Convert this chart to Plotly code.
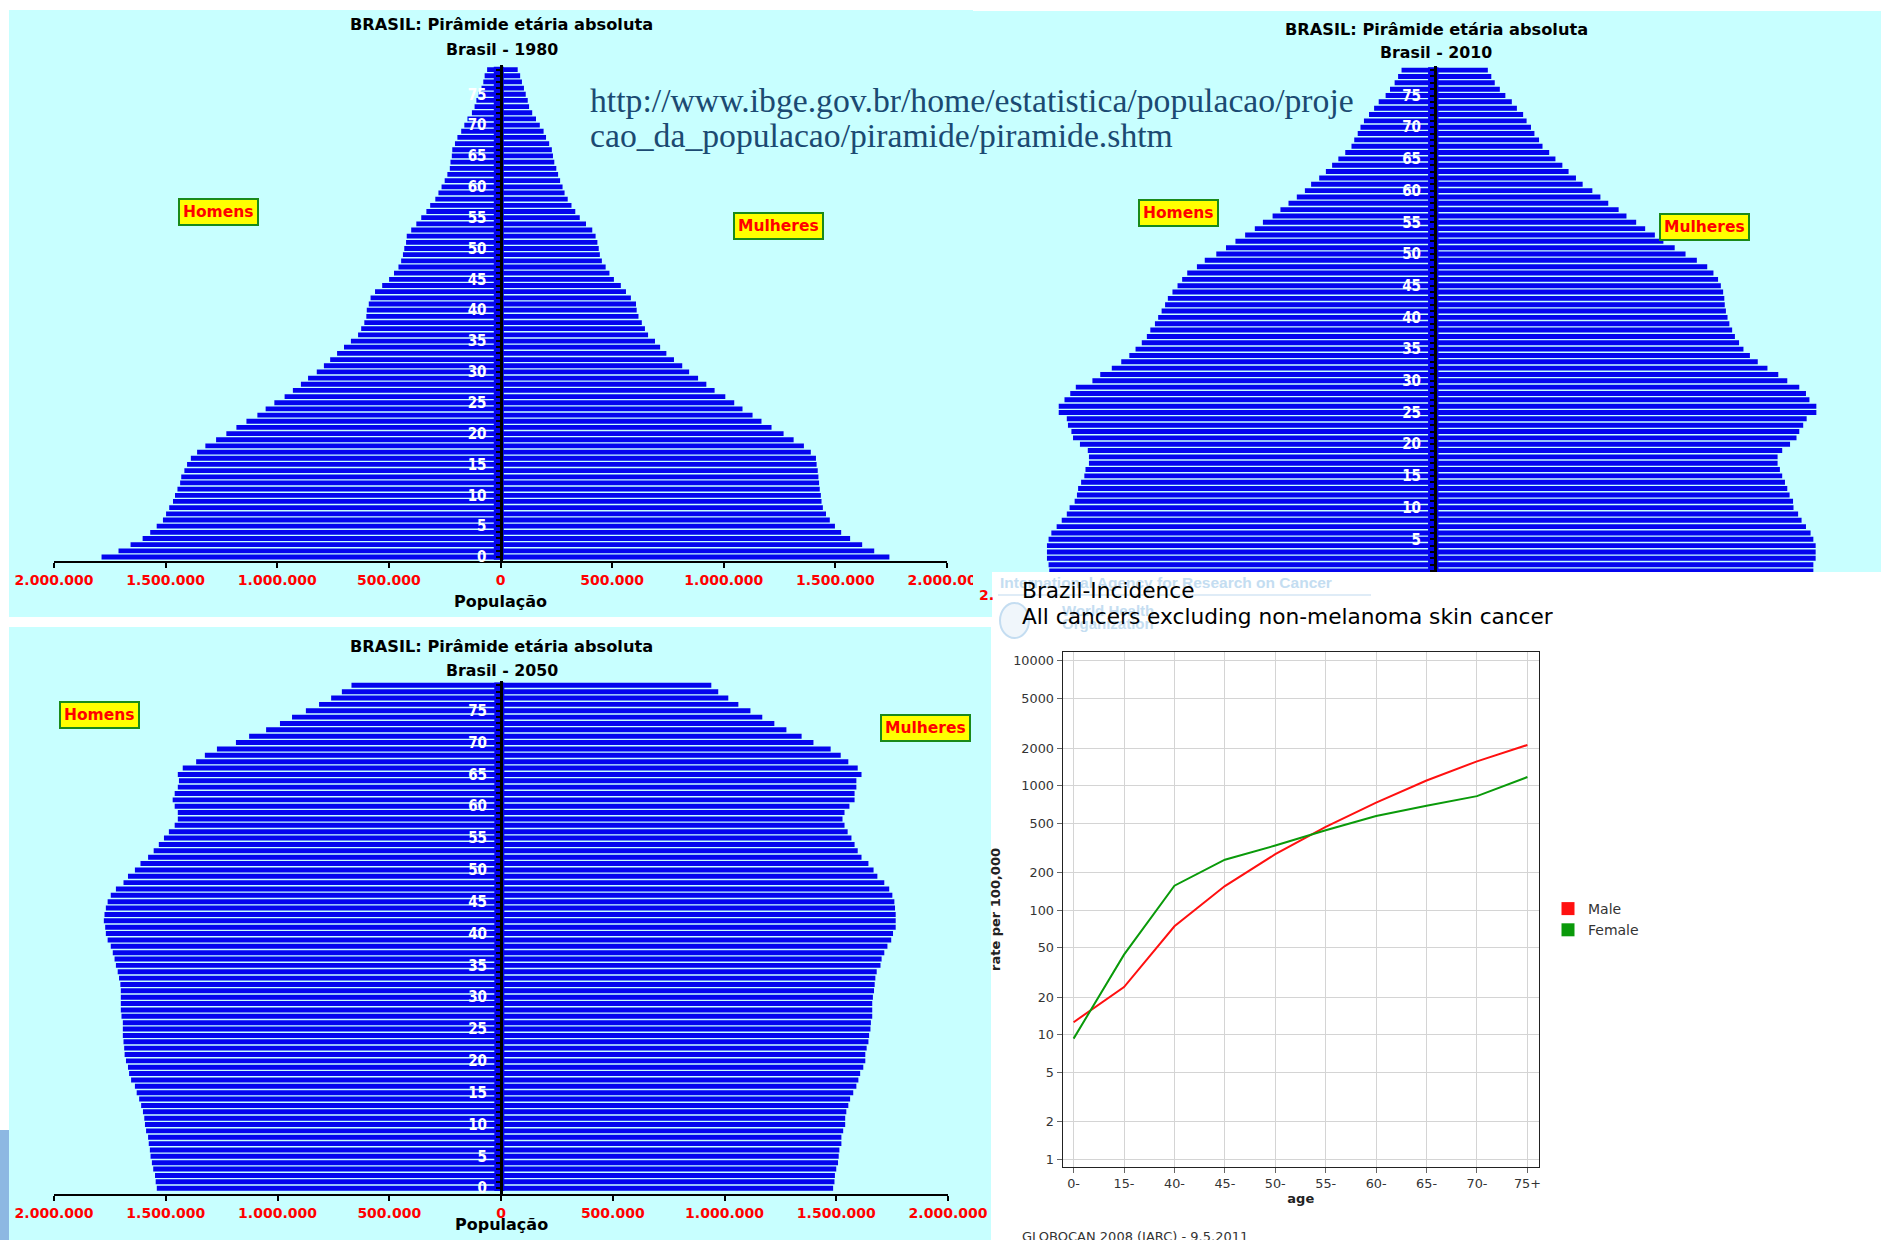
import plotly.graph_objects as go

W, H = 1881, 1240
def px(x): return x / W
def py(y): return 1 - y / H

# ---------------- DATA ----------------
ages = list(range(80))
age_tick_vals = list(range(0, 80, 5))
pop_tick_vals = [-2000000, -1500000, -1000000, -500000, 0, 500000, 1000000, 1500000, 2000000]
pop_tick_text = ["2.000.000", "1.500.000", "1.000.000", "500.000", "0",
                 "500.000", "1.000.000", "1.500.000", "2.000.000"]

# population in thousands, ages 0..79
men_1980 = [1787, 1711, 1657, 1603, 1569, 1540, 1512, 1498, 1484, 1467, 1458, 1447, 1435, 1430, 1416,
            1404, 1387, 1359, 1322, 1274, 1228, 1183, 1138, 1089, 1052, 1013, 967, 930, 894, 862,
            823, 791, 763, 732, 701, 670, 638, 624, 610, 601, 599, 590, 582, 562, 530,
            499, 477, 457, 445, 437, 431, 423, 420, 400, 377, 355, 332, 315, 292, 278,
            264, 250, 238, 227, 224, 218, 216, 204, 193, 176, 162, 148, 128, 116, 108,
            99, 85, 77, 71, 60]
women_1980 = [1742, 1674, 1620, 1566, 1526, 1498, 1475, 1458, 1444, 1438, 1435, 1430, 1427, 1424, 1421,
              1416, 1413, 1390, 1359, 1313, 1268, 1214, 1169, 1129, 1084, 1047, 1007, 959, 922, 885,
              845, 814, 777, 743, 715, 692, 661, 647, 633, 618, 610, 607, 584, 562, 539,
              508, 488, 471, 454, 445, 440, 434, 426, 411, 383, 355, 335, 318, 301, 287,
              278, 267, 258, 250, 241, 235, 230, 218, 204, 193, 176, 159, 142, 128, 122,
              113, 105, 96, 88, 77]
men_2010 = [1672, 1675, 1682, 1682, 1682, 1675, 1663, 1640, 1618, 1596, 1584, 1562, 1552, 1547, 1534,
            1520, 1515, 1500, 1500, 1505, 1539, 1569, 1576, 1591, 1596, 1631, 1631, 1606, 1581, 1557,
            1485, 1451, 1401, 1360, 1325, 1298, 1271, 1249, 1234, 1214, 1200, 1185, 1170, 1158, 1138,
            1116, 1096, 1074, 1032, 998, 948, 906, 865, 823, 781, 746, 704, 670, 635, 599,
            564, 537, 502, 473, 446, 419, 389, 362, 350, 335, 323, 308, 286, 264, 244,
            214, 195, 175, 160, 145]
women_2010 = [1640, 1640, 1650, 1650, 1650, 1640, 1628, 1608, 1589, 1574, 1554, 1552, 1537, 1527, 1517,
              1505, 1495, 1485, 1485, 1505, 1539, 1567, 1579, 1596, 1611, 1653, 1653, 1623, 1608, 1579,
              1527, 1488, 1441, 1399, 1365, 1337, 1318, 1300, 1288, 1276, 1268, 1261, 1256, 1254, 1249,
              1239, 1227, 1207, 1180, 1135, 1086, 1039, 990, 953, 911, 872, 830, 796, 751, 717,
              682, 640, 611, 579, 552, 522, 495, 466, 451, 431, 416, 397, 382, 355, 333,
              305, 281, 259, 244, 229]
men_2050 = [1540, 1545, 1548, 1556, 1562, 1568, 1571, 1576, 1579, 1588, 1593, 1596, 1602, 1610, 1619,
            1630, 1638, 1655, 1664, 1669, 1678, 1684, 1686, 1689, 1692, 1692, 1692, 1698, 1701, 1701,
            1701, 1701, 1703, 1709, 1715, 1723, 1729, 1737, 1746, 1760, 1768, 1771, 1777, 1774, 1768,
            1760, 1746, 1723, 1689, 1669, 1638, 1613, 1579, 1554, 1531, 1508, 1486, 1460, 1446, 1446,
            1460, 1469, 1460, 1446, 1441, 1446, 1424, 1364, 1325, 1271, 1186, 1127, 1051, 989, 935,
            873, 814, 760, 712, 669]
women_2050 = [1486, 1492, 1494, 1500, 1508, 1511, 1514, 1523, 1523, 1531, 1540, 1540, 1545, 1554, 1562,
              1576, 1590, 1599, 1607, 1621, 1630, 1630, 1636, 1644, 1647, 1653, 1655, 1661, 1661, 1661,
              1664, 1669, 1672, 1675, 1681, 1698, 1703, 1715, 1729, 1746, 1754, 1766, 1766, 1766, 1763,
              1760, 1751, 1737, 1715, 1684, 1667, 1644, 1613, 1596, 1582, 1568, 1551, 1537, 1528, 1537,
              1559, 1582, 1582, 1590, 1590, 1613, 1596, 1554, 1520, 1475, 1398, 1345, 1277, 1223, 1169,
              1116, 1062, 1017, 972, 941]

inc_ages = ["0-", "15-", "40-", "45-", "50-", "55-", "60-", "65-", "70-", "75+"]
inc_male = [12.6, 24.1, 74.1, 156, 281, 466, 729, 1097, 1564, 2117]
inc_female = [9.3, 43.9, 157, 254, 330, 438, 569, 689, 822, 1170]
rate_ticks = [1, 2, 5, 10, 20, 50, 100, 200, 500, 1000, 2000, 5000, 10000]

# ---------------- STYLE ----------------
CYAN = "#C8FFFF"
BLUE = "#0505EE"
BOLD = "DejaVu Sans"
WATER = "#C4DDF1"

fig = go.Figure()

pyramids = [
    # (suffix, men, women, year, cx, x0, x1, xrange, ybot, ytop, yrange, showx, tickvals, axis title)
    ("", men_1980, women_1980, "1980", 500.5, 54, 947, [-2e6, 2e6],
     560.7, 557 - 79.7 * 6.17, [-0.6, 79.7], True, age_tick_vals, "População"),
    ("2", men_2010, women_2010, "2010", 1435, 992, 1881,
     [(992 - 1435) / 230.7 * 1e6, (1881 - 1435) / 230.7 * 1e6],
     572, 571 - 79.7 * 6.34, [-(572 - 571) / 6.34, 79.7], False, age_tick_vals[1:], ""),
    ("3", men_2050, women_2050, "2050", 501, 54, 948, [-2e6, 2e6],
     1194.1, 1188.2 - 79.7 * 6.366, [-0.93, 79.7], True, age_tick_vals, ""),
]

layout_axes = {}
for suf, men, women, yr, cx, x0, x1, xr, ybot, ytop, yr_rng, showx, tv, xtitle in pyramids:
    xa = "x" + suf
    ya = "y" + suf
    fig.add_trace(go.Bar(x=[-v * 1000 for v in men], y=ages, orientation="h", xaxis=xa, yaxis=ya,
                         marker=dict(color=BLUE, line=dict(width=0)), showlegend=False, hoverinfo="skip"))
    fig.add_trace(go.Bar(x=[v * 1000 for v in women], y=ages, orientation="h", xaxis=xa, yaxis=ya,
                         marker=dict(color=BLUE, line=dict(width=0)), showlegend=False, hoverinfo="skip"))
    layout_axes["xaxis" + suf] = dict(
        domain=[px(x0), px(x1)], range=xr, anchor=ya, visible=showx, automargin=False,
        showline=True, linecolor="black", linewidth=2, ticks="outside", ticklen=5, tickwidth=2, tickcolor="black",
        tickvals=pop_tick_vals, ticktext=pop_tick_text,
        tickfont=dict(family=BOLD, size=14, color="#FF0000", weight="bold"),
        showgrid=False, zeroline=False, fixedrange=True,
        title=dict(text=xtitle, font=dict(family=BOLD, size=16, color="black", weight="bold"), standoff=9),
    )
    layout_axes["yaxis" + suf] = dict(
        domain=[py(ybot), py(ytop)], range=yr_rng, anchor="free", position=px(cx), automargin=False,
        showline=True, linecolor="black", linewidth=3,
        ticks="outside", ticklen=4, tickwidth=2, tickcolor="black",
        tickvals=tv, ticklabelstandoff=6,
        tickfont=dict(family="DejaVu Sans Condensed", size=15, color="white", weight="bold"),
        minor=dict(ticks="outside", dtick=1, ticklen=4, tickwidth=2, tickcolor="black"),
        showgrid=False, zeroline=False, fixedrange=True,
    )

# line chart
fig.add_trace(go.Scatter(x=inc_ages, y=inc_male, mode="lines", line=dict(color="#FF1010", width=2),
                         xaxis="x4", yaxis="y4", showlegend=False, hoverinfo="skip"))
fig.add_trace(go.Scatter(x=inc_ages, y=inc_female, mode="lines", line=dict(color="#0A9A0A", width=2),
                         xaxis="x4", yaxis="y4", showlegend=False, hoverinfo="skip"))
fig.add_trace(go.Scatter(x=[None], y=[None], mode="markers", name="Male",
                         marker=dict(symbol="square", size=13, color="#FF1010"), xaxis="x4", yaxis="y4"))
fig.add_trace(go.Scatter(x=[None], y=[None], mode="markers", name="Female",
                         marker=dict(symbol="square", size=13, color="#0A9A0A"), xaxis="x4", yaxis="y4"))

layout_axes["xaxis4"] = dict(
    domain=[px(1062.5), px(1539)], range=[-0.22, 9.23], anchor="y4", type="category", automargin=False,
    showline=True, mirror=True, linecolor="#222", linewidth=1,
    ticks="outside", ticklen=5, tickcolor="#666", showgrid=True, gridcolor="#D4D4D4", gridwidth=1,
    tickfont=dict(family="DejaVu Sans", size=12.8, color="#333"), zeroline=False, fixedrange=True,
    title=dict(text="age", font=dict(family="DejaVu Sans", size=13, color="#222", weight="bold"), standoff=3),
)
layout_axes["yaxis4"] = dict(
    domain=[py(1167), py(652)], range=[-0.062, 4.072], anchor="x4", type="log", automargin=False,
    showline=True, mirror=True, linecolor="#222", linewidth=1,
    ticks="outside", ticklen=5, tickcolor="#666", showgrid=True, gridcolor="#D4D4D4", gridwidth=1,
    tickvals=rate_ticks, ticktext=[str(v) for v in rate_ticks],
    tickfont=dict(family="DejaVu Sans", size=12.8, color="#333"), zeroline=False, fixedrange=True,
    title=dict(text="rate per 100,000", font=dict(family="DejaVu Sans", size=13, color="#222", weight="bold"), standoff=9),
)

shapes = [
    dict(type="rect", xref="paper", yref="paper", x0=px(9), x1=px(973), y0=py(617), y1=py(10),
         fillcolor=CYAN, line=dict(width=0), layer="below"),
    dict(type="rect", xref="paper", yref="paper", x0=px(973), x1=px(1881), y0=py(617), y1=py(11),
         fillcolor=CYAN, line=dict(width=0), layer="below"),
    dict(type="rect", xref="paper", yref="paper", x0=px(9), x1=px(991), y0=py(1240), y1=py(627),
         fillcolor=CYAN, line=dict(width=0), layer="below"),
    dict(type="rect", xref="paper", yref="paper", x0=px(992), x1=px(1881), y0=py(1240), y1=py(572),
         fillcolor="white", line=dict(width=0), layer="below"),
    dict(type="rect", xref="paper", yref="paper", x0=px(0), x1=px(9), y0=py(1240), y1=py(1130),
         fillcolor="#8DB8E2", line=dict(width=0), layer="below"),
    # right edge of the 1980 picture (clips its last tick label)
    dict(type="rect", xref="paper", yref="paper", x0=px(973), x1=px(992), y0=py(617), y1=py(572),
         fillcolor=CYAN, line=dict(width=0), layer="above"),
    # watermark underline + logo
    dict(type="line", xref="paper", yref="paper", x0=px(998), x1=px(1371), y0=py(595), y1=py(595),
         line=dict(color="#D4E6F4", width=1.5), layer="below"),
    dict(type="circle", xref="paper", yref="paper", x0=px(1000), x1=px(1029), y0=py(638), y1=py(603),
         line=dict(color=WATER, width=2), fillcolor="rgba(196,221,241,0.25)", layer="below"),
]
# blue spine behind the centre line of each pyramid
for suf, *_ in pyramids:
    shapes.append(dict(type="rect", xref="x" + suf, yref="y" + suf, x0=-30000, x1=15000, y0=-0.45, y1=79.45,
                       fillcolor=BLUE, line=dict(width=0), layer="below"))

ann = []
def text(x, y, s, size, color="black", family=BOLD, weight="bold", xanchor="center", yanchor="middle", **kw):
    ann.append(dict(x=px(x), y=py(y), xref="paper", yref="paper", text=s, showarrow=False,
                    xanchor=xanchor, yanchor=yanchor,
                    font=dict(family=family, size=size, color=color, weight=weight), **kw))

for cx, y1, yr in [(502, 25, "1980"), (1436, 29, "2010"), (502, 646, "2050")]:
    text(cx, y1, "BRASIL: Pirâmide etária absoluta", 16.2)
    text(cx, y1 + 24, "Brasil - " + yr, 15.8)

# x-axis title of the 2050 pyramid sits right against its tick labels
text(502, 1224, "População", 16)

box = dict(bgcolor="#FFFF00", bordercolor="#1A8A1A", borderwidth=2, borderpad=3)
for (x, y, s) in [(218, 212, "Homens"), (778, 226, "Mulheres"), (1178, 213, "Homens"),
                  (1704, 227, "Mulheres"), (99, 715, "Homens"), (925, 728, "Mulheres")]:
    text(x, y, s, 15.5, color="#FF0000", **box)

text(588, 101, "http://www.ibge.gov.br/home/estatistica/populacao/proje", 33.7, color="#1B4A72",
     family="Liberation Serif", weight="normal", xanchor="left")
text(588, 136, "cao_da_populacao/piramide/piramide.shtm", 33.7, color="#1B4A72",
     family="Liberation Serif", weight="normal", xanchor="left")

text(977, 595, "2.", 14, color="#FF0000", xanchor="left")

# watermark
text(998, 582, "International Agency for Research on Cancer", 15.5, color=WATER,
     family="Liberation Sans", xanchor="left")
text(1060, 611, "World Health", 15, color=WATER, family="Liberation Sans", xanchor="left")
text(1060, 624, "Organization", 15, color=WATER, family="Liberation Sans", xanchor="left")

text(1020, 590, "Brazil-Incidence", 21.7, family="DejaVu Sans", weight="normal", xanchor="left")
text(1020, 616, "All cancers excluding non-melanoma skin cancer", 21.7, family="DejaVu Sans", weight="normal",
     xanchor="left")
text(1020, 1236, "GLOBOCAN 2008 (IARC) - 9.5.2011", 13, color="#333", family="DejaVu Sans",
     weight="normal", xanchor="left")

fig.update_layout(
    width=W, height=H, margin=dict(l=0, r=0, t=0, b=0, autoexpand=False),
    paper_bgcolor="white", plot_bgcolor="rgba(0,0,0,0)",
    barmode="overlay", bargap=0.22,
    shapes=shapes, annotations=ann,
    legend=dict(x=px(1548), y=py(893), xanchor="left", yanchor="top", bgcolor="rgba(0,0,0,0)",
                font=dict(family="DejaVu Sans", size=14, color="#333"), tracegroupgap=0, itemwidth=30),
    **layout_axes,
)

fig.write_html("out.html", config={"displayModeBar": False},
               post_script="document.body.style.margin='0';document.documentElement.style.overflow='hidden';")
